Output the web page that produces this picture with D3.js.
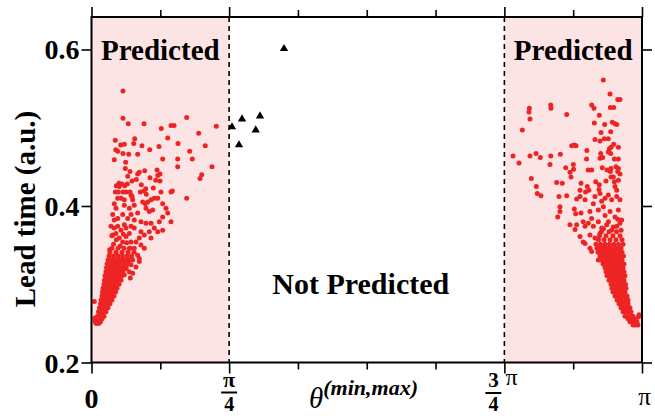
<!DOCTYPE html>
<html><head><meta charset="utf-8">
<script src="https://cdn.jsdelivr.net/npm/d3@7"></script>
<style>body{margin:0;background:#fff}svg{display:block}</style>
</head><body><svg id="c" width="655" height="416"></svg>
<script>
// theta in units of pi, lead time in a.u.
const leftSparse = [[.0572,.547],[.0572,.512],[.0668,.505],[.0954,.505],[.1729,.513],[.2267,.502],[.1268,.499],[.1444,.503],[.1499,.503],[.1947,.493],[.1384,.487],[.0785,.486],[.0432,.484],[.0767,.480],[.1571,.480],[.2067,.477],[.0530,.478],[.0596,.479],[.0917,.477],[.1226,.476],[.0440,.472],[.0476,.470],[.1057,.472],[.1784,.470],[.0572,.467],[.0676,.466],[.0839,.466],[.0414,.459],[.1293,.460],[.1566,.460],[.1831,.460],[.0621,.456],[.1566,.450],[.2189,.450],[.0614,.448],[.0699,.444],[.0868,.443],[.0839,.441],[.0966,.445],[.1190,.446],[.1244,.441],[.1203,.439],[.1063,.436],[.1166,.433],[.1244,.432],[.2002,.440],[.1971,.435],[.0658,.438],[.0736,.432],[.0814,.434],[.0500,.429],[.0554,.428],[.0450,.426],[.0505,.425],[.0603,.426],[.0650,.428],[.0905,.427],[.0985,.422],[.0954,.419],[.0886,.418],[.1123,.423],[.0432,.418],[.0487,.418],[.0572,.418],[.0627,.418],[.0699,.418],[.0718,.414],[.0995,.415],[.1262,.418],[.1444,.418],[.1468,.419],[.1729,.410],
[.0476,.410],[.0536,.410],[.0596,.408],[.0736,.412],[.0748,.408],[.0930,.405],[.0977,.403],[.1021,.405],[.1081,.408],[.1141,.410],[.1203,.410],[.0414,.403],[.0445,.397],[.0596,.401],[.0687,.397],[.0777,.401],[.0990,.397],[.1050,.393],[.1112,.395],[.1293,.403],[.1353,.397],[.1384,.391],[.1293,.386],[.1444,.380],[.1232,.380],
[.0385,.389],[.0414,.382],[.0476,.384],[.0567,.389],[.0658,.384],[.0718,.389],[.0777,.382],[.0839,.391],[.0899,.380],[.0990,.378],[.1081,.378],[.1141,.372],[.1203,.367],[.1293,.369],[.1050,.367],[.0959,.363],[.1081,.359],[.0868,.359],[.0899,.367],[.0777,.372],[.0718,.374],[.0627,.372],[.0596,.376],[.0536,.369],[.0476,.374],[.0414,.372],[.0354,.374],[.0385,.363],[.0445,.365],[.0505,.359],[.0567,.354],[.0627,.361],[.0687,.365],[.0718,.354],[.0808,.354],[.0899,.350],[.0959,.346],[.0777,.346],[.0687,.346],[.0839,.337],[.0868,.333],[.0748,.331],[.0658,.329],[.0718,.325],[.0627,.320],[.0687,.316],[.0596,.312],
[.0868,.329],[.0808,.322],[.0748,.314],[.0705,.308],[.0400,.351],[.0520,.349],[.0640,.353],[.0450,.357],[.0330,.344],[.0370,.362],[.0580,.364],
[.0051,.278],[.0064,.257],[.0064,.254]];

const leftCoreRows = [
 [.346,[.0372,.0481,.0590,.0700]],
 [.341,[.0336,.0445,.0554,.0663,.0772]],
 [.336,[.0318,.0400,.0481,.0563,.0645,.0727]],
 [.331,[.0300,.0354,.0409,.0463,.0518,.0572,.0627,.0681]],
 [.326,[.0282,.0336,.0391,.0445,.0500,.0554,.0609,.0663]],
 [.321,[.0272,.0318,.0372,.0427,.0481,.0536,.0590,.0627]],
 [.316,[.0263,.0300,.0354,.0409,.0463,.0518,.0572]],
 [.311,[.0245,.0282,.0336,.0391,.0445,.0500,.0554]],
 [.305,[.0236,.0263,.0318,.0372,.0427,.0481,.0536]],
 [.300,[.0227,.0282,.0336,.0391,.0445,.0500]],
 [.295,[.0209,.0245,.0300,.0354,.0409,.0463]],
 [.290,[.0200,.0227,.0282,.0336,.0391,.0436]],
 [.285,[.0191,.0209,.0263,.0318,.0372,.0409]],
 [.280,[.0173,.0191,.0245,.0300,.0354,.0372]],
 [.275,[.0163,.0191,.0227,.0282,.0336]],
 [.270,[.0145,.0173,.0209,.0263,.0300]],
 [.265,[.0127,.0154,.0191,.0227,.0263]],
 [.259,[.0109,.0136,.0173,.0227]],
 [.256,[.0091,.0118,.0154,.0191]],
 [.252,[.0073,.0100,.0136,.0163]],
 [.250,[.0082,.0109,.0136]]
];

const rightSparse = [[.9297,.561],[.9419,.543],[.9559,.536],[.9600,.536],[.7953,.525],[.7947,.520],[.7965,.511],[.8342,.529],[.8347,.525],[.9086,.529],[.9128,.525],[.9425,.526],[.9486,.526],[.8632,.517],[.9224,.516],[.9134,.506],[.9322,.504],[.9461,.507],[.9510,.505],[.9541,.504],[.7826,.497],[.9255,.494],[.9431,.495],[.9146,.485],[.9237,.483],[.9315,.486],[.9388,.486],[.9486,.479],[.8723,.477],[.8770,.478],[.8801,.477],[.8999,.471],[.9407,.473],[.9437,.475],[.9571,.475],[.9388,.469],[.9431,.467],[.7657,.464],[.7965,.464],[.8075,.467],[.8153,.462],[.8343,.464],[.8517,.466],[.9250,.467],[.9286,.462],[.9237,.461],[.8993,.460],[.9498,.460],[.9571,.460],[.7766,.455],[.8329,.453],[.8753,.453],[.8614,.449],[.8756,.447],[.9022,.446],[.9086,.446],[.9279,.449],[.9364,.446],[.9437,.448],[.9425,.444],[.9528,.450],[.9571,.448],[.9559,.444],[.8692,.443],[.9600,.441],[.8710,.437],[.7989,.435],[.8450,.430],[.8552,.429],[.8892,.429],[.9159,.431],[.9224,.427],[.9346,.432],[.9437,.437],[.9498,.431],[.9480,.437],[.9571,.433],[.8080,.425],[.9006,.425],[.9035,.420],[.8975,.418],[.9219,.421],[.9510,.425],[.9541,.420],[.8874,.420],[.8098,.416],
[.8165,.413],[.8492,.412],[.8632,.413],[.8510,.399],[.8510,.393],[.8469,.386],[.8813,.409],[.8874,.412],[.8965,.408],[.8770,.396],[.8795,.390],[.8692,.376],[.8783,.370],[.8813,.376],[.8892,.391],[.8933,.380],[.8965,.374],[.9055,.393],[.9086,.384],[.9116,.403],[.9146,.412],[.9237,.416],[.9268,.406],[.9298,.399],[.9328,.410],[.9388,.414],[.9449,.408],[.9541,.412],[.9600,.408],[.9207,.395],[.9328,.388],[.9419,.393],[.9510,.386],[.9571,.395],[.9631,.382],[.9025,.378],[.9116,.374],[.9207,.380],[.9268,.372],[.9359,.376],[.9449,.369],[.9541,.374],[.9600,.378],[.8874,.361],[.8933,.354],[.8965,.352],[.9055,.363],[.9146,.359],[.9237,.365],[.9055,.346],[.9086,.342],[.9207,.331],
[.9300,.371],[.9480,.373],[.9620,.369],[.9390,.380],[.9560,.383],
[.9946,.261],[.9934,.258]];

const rightCoreRows = [
 [.367,[.9264,.9401,.9537]],
 [.362,[.9228,.9346,.9473,.9600]],
 [.357,[.9210,.9310,.9419,.9528,.9637]],
 [.351,[.9164,.9246,.9328,.9410,.9491,.9573,.9655]],
 [.346,[.9183,.9237,.9292,.9346,.9401,.9455,.9510,.9564,.9619]],
 [.341,[.9201,.9255,.9310,.9364,.9419,.9473,.9528,.9582,.9637]],
 [.336,[.9237,.9292,.9346,.9401,.9455,.9510,.9564,.9619,.9664]],
 [.331,[.9255,.9310,.9364,.9419,.9473,.9528,.9582,.9637]],
 [.326,[.9292,.9346,.9401,.9455,.9510,.9564,.9619,.9673]],
 [.321,[.9328,.9382,.9437,.9491,.9546,.9600,.9655]],
 [.316,[.9346,.9401,.9455,.9510,.9564,.9619,.9673]],
 [.311,[.9364,.9419,.9473,.9528,.9582,.9637,.9691]],
 [.305,[.9401,.9455,.9510,.9564,.9619,.9673]],
 [.300,[.9437,.9491,.9546,.9600,.9655,.9700]],
 [.295,[.9455,.9510,.9564,.9619,.9673,.9709]],
 [.290,[.9473,.9528,.9582,.9637,.9691]],
 [.285,[.9510,.9564,.9619,.9673,.9728]],
 [.280,[.9546,.9600,.9655,.9709,.9746]],
 [.275,[.9582,.9637,.9691,.9746]],
 [.270,[.9619,.9673,.9728,.9782]],
 [.265,[.9655,.9709,.9764,.9800]],
 [.259,[.9691,.9746,.9800,.9837]],
 [.256,[.9746,.9791,.9837,.9873]],
 [.252,[.9782,.9827,.9873,.9909]],
 [.248,[.9837,.9882,.9927]]
];

const triangles = [[.2552,.501],[.2734,.511],[.3061,.515],[.2983,.497],[.2679,.478],[.3497,.601]];

const predictedRegions = [[0, 0.25], [0.75, 1]];
const regionLabels = ["Predicted", "Predicted"];
const middleLabel = "Not Predicted";
const xMajorTicks = [0, 0.25, 0.75, 1];
const xMinorTicks = [0.125, 0.375, 0.5, 0.625, 0.875];
const yTicks = [0.2, 0.4, 0.6];
const yTickLabels = ["0.2", "0.4", "0.6"];
const yAxisTitle = "Lead time (a.u.)";
const xAxisSymbol = "θ";
const xAxisSuper = "(min,max)";

const serif = "'Liberation Serif','Times New Roman',serif";
const svg = d3.select("#c");
const x = d3.scaleLinear().domain([0, 1]).range([91.5, 642]);
const y = d3.scaleLinear().domain([0.2, 0.6415]).range([362.5, 17]);
const [x0, x1] = x.range(), [y0, y1] = y.range();

// predicted shading
svg.selectAll("rect.reg").data(predictedRegions).join("rect")
  .attr("x", d => x(d[0])).attr("y", y1)
  .attr("width", d => x(d[1]) - x(d[0])).attr("height", y0 - y1)
  .attr("fill", "#fde4e4");

// dashed boundaries
svg.selectAll("line.bd").data([0.25, 0.75]).join("line")
  .attr("x1", d => x(d)).attr("x2", d => x(d)).attr("y1", y1).attr("y2", y0)
  .attr("stroke", "#000").attr("stroke-width", 1.6).attr("stroke-dasharray", "5,4");

// points
const pts = [];
leftSparse.forEach(p => pts.push(p));
leftCoreRows.forEach(([l, ts]) => ts.forEach(t => pts.push([t, l])));
rightSparse.forEach(p => pts.push(p));
rightCoreRows.forEach(([l, ts]) => ts.forEach(t => pts.push([t, l])));
svg.append("g").selectAll("circle").data(pts).join("circle")
  .attr("cx", d => x(d[0])).attr("cy", d => y(d[1])).attr("r", 2.5)
  .attr("fill", "#ee2424");

svg.append("g").selectAll("path").data(triangles).join("path")
  .attr("transform", d => `translate(${x(d[0])},${y(d[1])})`)
  .attr("d", d3.symbol(d3.symbolTriangle, 30)).attr("fill", "#000");

// axes (ticks only)
function styleAxis(g) {
  g.select(".domain").remove();
  g.selectAll(".tick line").attr("stroke", "#000").attr("stroke-width", 1.6);
  g.selectAll("text").remove();
}
svg.append("g").attr("transform", `translate(0,${y0})`)
  .call(d3.axisBottom(x).tickValues(xMajorTicks).tickSize(11).tickFormat("")).call(styleAxis);
svg.append("g").attr("transform", `translate(0,${y0})`)
  .call(d3.axisBottom(x).tickValues(xMinorTicks).tickSize(7).tickFormat("")).call(styleAxis);
svg.append("g").attr("transform", `translate(0,${y1})`)
  .call(d3.axisTop(x).tickValues(xMajorTicks).tickSize(10).tickFormat("")).call(styleAxis);
svg.append("g").attr("transform", `translate(0,${y1})`)
  .call(d3.axisTop(x).tickValues(xMinorTicks).tickSize(7).tickFormat("")).call(styleAxis);
svg.append("g").attr("transform", `translate(${x0},0)`)
  .call(d3.axisLeft(y).tickValues(yTicks).tickSize(10).tickFormat("")).call(styleAxis);
svg.append("g").attr("transform", `translate(${x1},0)`)
  .call(d3.axisRight(y).tickValues(yTicks).tickSize(10).tickFormat("")).call(styleAxis);

// frame
svg.append("rect").attr("x", x0).attr("y", y1).attr("width", x1 - x0).attr("height", y0 - y1)
  .attr("fill", "none").attr("stroke", "#000").attr("stroke-width", 2);

// y tick labels
svg.selectAll("text.yt").data(yTicks).join("text")
  .attr("x", x0 - 12).attr("y", d => y(d) + 10).attr("text-anchor", "end")
  .attr("font-family", serif).attr("font-weight", "bold").attr("font-size", 28)
  .text((d, i) => yTickLabels[i]);

// x tick labels
function t(xp, yp, s, size, anchor, extra) {
  const e = svg.append("text").attr("x", xp).attr("y", yp).attr("font-size", size)
    .attr("text-anchor", anchor || "middle").attr("font-family", serif).attr("font-weight", "bold").text(s);
  if (extra) for (const k in extra) e.attr(k, extra[k]);
  return e;
}
t(x(0), 408, "0", 28);
t(x(0.25), 386.5, "π", 22);
svg.append("line").attr("x1", x(0.25) - 8).attr("x2", x(0.25) + 8).attr("y1", 392.5).attr("y2", 392.5).attr("stroke", "#000").attr("stroke-width", 2);
t(x(0.25), 411, "4", 20);
t(x(0.75) - 11, 387, "3", 21);
svg.append("line").attr("x1", x(0.75) - 19).attr("x2", x(0.75) - 3).attr("y1", 393).attr("y2", 393).attr("stroke", "#000").attr("stroke-width", 2);
t(x(0.75) - 11, 411, "4", 20);
t(x(0.75) + 1, 385, "π", 24, "start", {"font-weight": "normal"});
t(x(1) + 2.5, 405, "π", 25, "middle", {"font-weight": "normal"});

// axis title
const xt = svg.append("text").attr("x", 309).attr("y", 408).attr("font-family", serif);
xt.append("tspan").attr("font-style", "italic").attr("font-size", 29).text(xAxisSymbol);
xt.append("tspan").attr("font-style", "italic").attr("font-weight", "bold").attr("font-size", 22).attr("dy", -13).text(xAxisSuper);

svg.append("text").attr("transform", "translate(35,209) rotate(-90)").attr("text-anchor", "middle")
  .attr("font-family", serif).attr("font-weight", "bold").attr("font-size", 29).text(yAxisTitle);

// region labels
svg.selectAll("text.rl").data(predictedRegions).join("text")
  .attr("x", d => (x(d[0]) + x(d[1])) / 2).attr("y", 60).attr("text-anchor", "middle")
  .attr("font-family", serif).attr("font-weight", "bold").attr("font-size", 29)
  .text((d, i) => regionLabels[i]);
svg.append("text").attr("x", x(0.5) - 6).attr("y", 294).attr("text-anchor", "middle")
  .attr("font-family", serif).attr("font-weight", "bold").attr("font-size", 30).text(middleLabel);
</script></body></html>
